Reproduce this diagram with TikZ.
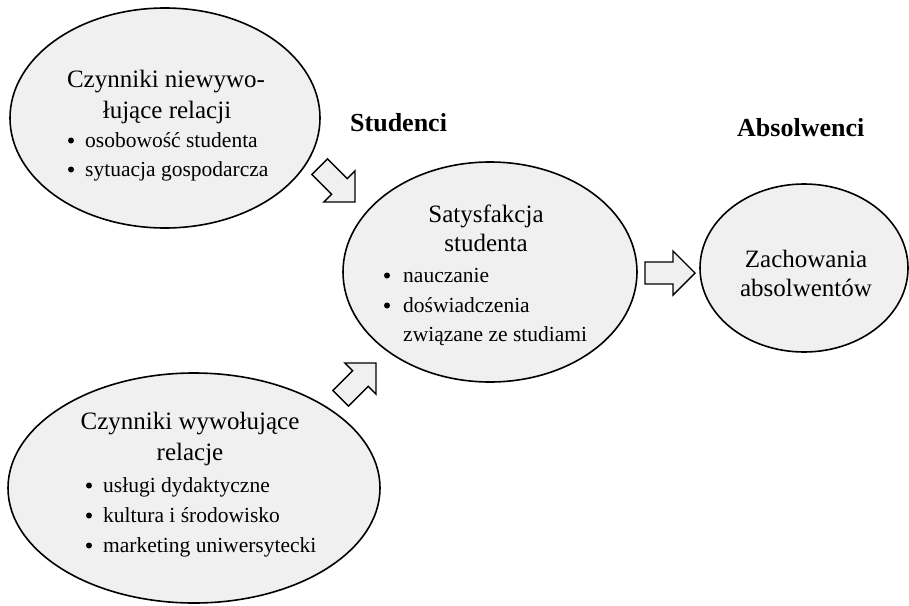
\documentclass[tikz,border=0pt]{standalone}
\usepackage{fontspec}
\setmainfont{Liberation Serif}
\usetikzlibrary{shapes.geometric}

\definecolor{bubblefill}{HTML}{F0F0F0}

\tikzset{
  bubble/.style={ellipse, draw=black, line width=1.6pt, fill=bubblefill, inner sep=0pt},
  title/.style={anchor=base, inner sep=0pt, font=\fontsize{25}{30}\selectfont},
  item/.style={anchor=base west, inner sep=0pt, font=\fontsize{21.5}{26}\selectfont},
  dot/.style={circle, fill=black, inner sep=0pt, minimum size=6pt, yshift=6.5pt},
  header/.style={anchor=base west, inner sep=0pt, font=\fontsize{26}{30}\selectfont\bfseries},
  blockarrow/.pic={
    \draw[line width=1.4pt, fill=bubblefill, line join=miter]
      (0,0) -- (-22,22) -- (-22,11) -- (-50,11) -- (-50,-11) -- (-22,-11) -- (-22,-22) -- cycle;
  }
}

\begin{document}
\begin{tikzpicture}[x=1pt, y=-1pt]
  \useasboundingbox (0,0) rectangle (909,605);

  % the four groups
  \node[bubble, minimum width=310pt, minimum height=220pt] (nonrel) at (165,118) {};
  \node[bubble, minimum width=294pt, minimum height=220pt] (sat)    at (490,272) {};
  \node[bubble, minimum width=208pt, minimum height=168pt] (grad)   at (804,268) {};
  \node[bubble, minimum width=372pt, minimum height=230pt] (rel)    at (194,488) {};

  % block arrows between the groups
  \pic[rotate=-45] at (355,202) {blockarrow};
  \pic[rotate=45]  at (376,363) {blockarrow};
  \pic             at (695,273) {blockarrow};

  % column headers
  \node[header] (hstud) at (350,131) {Studenci};
  \node[header] (habs)  at (737,136) {Absolwenci};

  % factors that do not create relations
  \node[title] (n1) at (166,87)  {Czynniki niewywo-};
  \node[title] (n2) at (167,118) {łujące relacji};
  \node[dot]  (n3d) at (71,147)  {};
  \node[item] (n3)  at (85,147)  {osobowość studenta};
  \node[dot]  (n4d) at (71,176)  {};
  \node[item] (n4)  at (85,176)  {sytuacja gospodarcza};

  % student satisfaction
  \node[title] (s1) at (486,222) {Satysfakcja};
  \node[title] (s2) at (486,251) {studenta};
  \node[dot]  (s3d) at (387,282) {};
  \node[item] (s3)  at (403,282) {nauczanie};
  \node[dot]  (s4d) at (387,312) {};
  \node[item] (s4)  at (403,312) {doświadczenia};
  \node[item] (s5)  at (403,341) {związane ze studiami};

  % graduate behaviour
  \node[title] (g1) at (806,267) {Zachowania};
  \node[title] (g2) at (806,296) {absolwentów};

  % factors that create relations
  \node[title] (r1) at (190,429) {Czynniki wywołujące};
  \node[title] (r2) at (190,460) {relacje};
  \node[dot]  (r3d) at (89,492)  {};
  \node[item] (r3)  at (103,492) {usługi dydaktyczne};
  \node[dot]  (r4d) at (89,522)  {};
  \node[item] (r4)  at (103,522) {kultura i środowisko};
  \node[dot]  (r5d) at (89,552)  {};
  \node[item] (r5)  at (103,552) {marketing uniwersytecki};
\end{tikzpicture}
\end{document}
